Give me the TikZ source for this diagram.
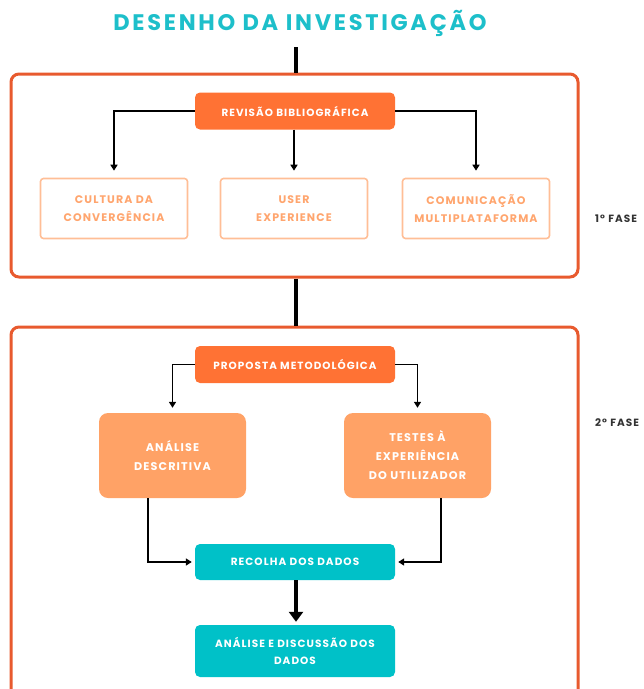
\documentclass[tikz,border=0pt]{standalone}
\usepackage{fontspec}
\setmainfont{Poppins}
\usetikzlibrary{arrows.meta,calc}
\definecolor{teal1}{HTML}{1DBFCA}
\definecolor{tealbox}{HTML}{00C1C8}
\definecolor{faseC}{HTML}{E85A2E}
\definecolor{orangeC}{HTML}{FF7234}
\definecolor{lightC}{HTML}{FFA266}
\definecolor{lineC}{HTML}{FFBE96}
\definecolor{txtC}{HTML}{FFA56E}
\definecolor{darkC}{HTML}{333333}
\tikzset{
  phasebox/.style={draw=faseC, line width=3pt, rounded corners=8pt, inner sep=0pt},
  headbox/.style={fill=orangeC, rounded corners=5pt, minimum width=200pt, minimum height=37pt, text=white, font=\bfseries\fontsize{10.4}{12}\selectfont\addfontfeature{LetterSpace=10}, align=center},
  outbox/.style={draw=lineC, line width=1.6pt, rounded corners=3pt, minimum width=147pt, minimum height=60pt, text=txtC, font=\bfseries\fontsize{11}{18}\selectfont\addfontfeature{LetterSpace=10}, align=center},
  softbox/.style={fill=lightC, rounded corners=9pt, minimum width=147pt, minimum height=85pt, text=white, font=\bfseries\fontsize{11.2}{19}\selectfont\addfontfeature{LetterSpace=10}, align=center},
  tealbox/.style={fill=tealbox, rounded corners=5pt, minimum width=200pt, text=white, font=\bfseries\fontsize{10.5}{17}\selectfont\addfontfeature{LetterSpace=10}, align=center},
  conn/.style={draw=black, line width=1.6pt, -{Triangle[length=6pt,width=7pt]}},
  faselabel/.style={anchor=west, text=darkC, font=\bfseries\fontsize{10.5}{12}\selectfont\addfontfeature{LetterSpace=10}, inner sep=0pt},
}
\begin{document}
\begin{tikzpicture}[x=1pt,y=-1pt]
\useasboundingbox (0,0) rectangle (644,689);
\clip (0,0) rectangle (644,689);
\node[text=teal1, font=\bfseries\fontsize{22.5}{26}\selectfont\addfontfeature{LetterSpace=12}] (title) at (300,23) {DESENHO DA INVESTIGAÇÃO};
\node[phasebox, minimum width=567pt, minimum height=203pt] (fase1) at (294.5,175.5) {};
\node[phasebox, minimum width=567pt, minimum height=400pt] (fase2) at (294.5,527) {};
\coordinate (c1) at (296,47);
\draw[line width=3.5pt] (c1) -- (c1 |- fase1.north);
\draw[line width=3.5pt] (fase1.south -| c1) -- (fase2.north -| c1);
\node[faselabel] (l1) at (595,219) {1° FASE};
\node[faselabel] (l2) at (595,423) {2° FASE};
% phase 1
\node[headbox] (rb) at (295,111) {REVISÃO BIBLIOGRÁFICA};
\node[outbox] (cult) at (114,208.5) {CULTURA DA\\CONVERGÊNCIA};
\node[outbox] (ux) at (294,208.5) {USER\\EXPERIENCE};
\node[outbox] (com) at (476,208.5) {COMUNICAÇÃO\\MULTIPLATAFORMA};
\draw[conn, shorten >=7pt] (rb.west) -| (cult.north);
\draw[conn, shorten >=7pt] (rb.south -| ux.north) -- (ux.north);
\draw[conn, shorten >=7pt] (rb.east) -| (com.north);
% phase 2
\node[headbox] (pm) at (295,364.5) {PROPOSTA METODOLÓGICA};
\node[softbox] (ad) at (172.5,455.5) {ANÁLISE\\DESCRITIVA};
\node[softbox] (tu) at (417.5,455.5) {TESTES À\\EXPERIÊNCIA\\DO UTILIZADOR};
\draw[conn, shorten >=5pt] (pm.west) -| (ad.north);
\draw[conn, shorten >=5pt] (pm.east) -| (tu.north);
\node[tealbox, minimum height=36pt] (rd) at (295,562) {RECOLHA DOS DADOS};
\node[tealbox, minimum height=52pt] (aed) at (295,651) {ANÁLISE E DISCUSSÃO DOS\\DADOS};
\coordinate (a1) at (148,498);
\coordinate (a2) at (441,498);
\draw[conn, shorten >=3pt] (a1) |- (rd.west);
\draw[conn, shorten >=3pt] (a2) |- (rd.east);
\draw[line width=4pt, -{Triangle[length=10pt,width=14pt]}, shorten >=3pt] (rd.south -| c1) -- (aed.north -| c1);
\end{tikzpicture}
\end{document}
